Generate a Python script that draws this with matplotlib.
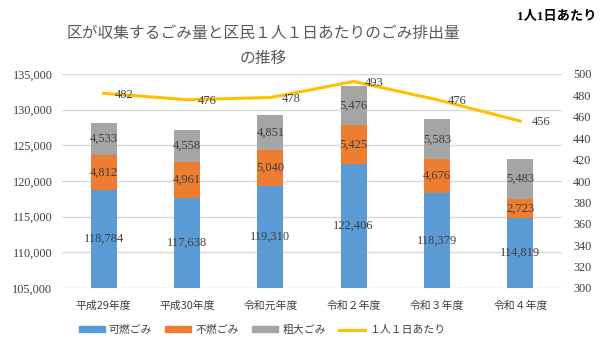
import matplotlib
matplotlib.use("Agg")
import matplotlib.pyplot as plt
from matplotlib.lines import Line2D
from matplotlib.patches import Patch

categories = ["平成29年度", "平成30年度", "令和元年度", "令和２年度", "令和３年度", "令和４年度"]
kanen = [118784, 117638, 119310, 122406, 118379, 114819]
funen = [4812, 4961, 5040, 5425, 4676, 2723]
sodai = [4533, 4558, 4851, 5476, 5583, 5483]
per_person = [482, 476, 478, 493, 476, 456]
series_names = ["可燃ごみ", "不燃ごみ", "粗大ごみ", "１人１日あたり"]
left_ticks = [105000, 110000, 115000, 120000, 125000, 130000, 135000]
right_ticks = [300, 320, 340, 360, 380, 400, 420, 440, 460, 480, 500]

C_BLUE = "#5B9BD5"
C_ORANGE = "#ED7D31"
C_GRAY = "#A5A5A5"
C_YELLOW = "#FFC000"
TXT = "#404040"
FAM = ["Liberation Serif", "Noto Sans CJK JP", "DejaVu Sans"]
JFAM = ["Noto Sans CJK JP", "DejaVu Sans"]

fig = plt.figure(figsize=(6.0, 3.46), dpi=100)
ax = fig.add_axes([62/600, 1-288/346, 500/600, 214/346])
ax2 = ax.twinx()

x = list(range(len(categories)))
w = 0.31
ax.bar(x, kanen, w, color=C_BLUE, zorder=3)
bot2 = kanen
ax.bar(x, funen, w, bottom=bot2, color=C_ORANGE, zorder=3)
bot3 = [a + b for a, b in zip(kanen, funen)]
ax.bar(x, sodai, w, bottom=bot3, color=C_GRAY, zorder=3)

ax.set_ylim(105000, 135000)
ax.set_xlim(-0.5, len(categories) - 0.5)
ax.set_yticks(left_ticks)
ax.set_yticklabels([f"{v:,}" for v in left_ticks], family=FAM, fontsize=8.8, color=TXT)
ax.set_xticks(x)
ax.set_xticklabels(categories, family=JFAM, fontsize=7.8, color=TXT)
ax.tick_params(axis="y", length=0, pad=7)
ax.tick_params(axis="x", length=0, pad=9)
ax.grid(axis="y", color="#D9D9D9", linewidth=1, zorder=0)
for s in ax.spines.values():
    s.set_visible(False)
for s in ax2.spines.values():
    s.set_visible(False)

for i in x:
    ax.text(i, (105000 + kanen[i]) / 2, f"{kanen[i]:,}", ha="center", va="center",
            family=FAM, fontsize=9, color=TXT, zorder=5)
    ax.text(i, bot2[i] + funen[i] / 2, f"{funen[i]:,}", ha="center", va="center",
            family=FAM, fontsize=9, color=TXT, zorder=5)
    ax.text(i, bot3[i] + sodai[i] / 2, f"{sodai[i]:,}", ha="center", va="center",
            family=FAM, fontsize=9, color=TXT, zorder=5)

ax2.plot(x, per_person, color=C_YELLOW, linewidth=2.2, zorder=4)
ax2.set_ylim(300, 500)
ax2.set_yticks(right_ticks)
ax2.set_yticklabels([str(v) for v in right_ticks], family=FAM, fontsize=8.8, color=TXT)
ax2.tick_params(axis="y", length=0, pad=8)
for i in x:
    ax2.annotate(str(per_person[i]), (i, per_person[i]), xytext=(8, -1),
                 textcoords="offset points", ha="left", va="center",
                 family=FAM, fontsize=9, color=TXT, zorder=6)

fig.text(263/600, 1-46/346, "区が収集するごみ量と区民１人１日あたりのごみ排出量\nの推移",
         ha="center", va="center", family=JFAM, fontsize=11.3, color="#595959",
         linespacing=1.55)
fig.text(597/600, 1-17/346, "1人1日あたり", ha="right", va="center",
         family=FAM, fontsize=9.5, color="#000000", fontweight="bold")

handles = [Patch(color=C_BLUE), Patch(color=C_ORANGE), Patch(color=C_GRAY),
           Line2D([0], [0], color=C_YELLOW, linewidth=2.2)]
leg = fig.legend(handles, series_names, loc="center", bbox_to_anchor=(262/600, 1-330/346),
                 ncol=4, frameon=False, prop={"family": JFAM, "size": 7.8},
                 handlelength=2.4, handleheight=0.45, columnspacing=1.2, handletextpad=0.4)
for t in leg.get_texts():
    t.set_color(TXT)

fig.savefig("out.png", dpi=100, facecolor="white")
